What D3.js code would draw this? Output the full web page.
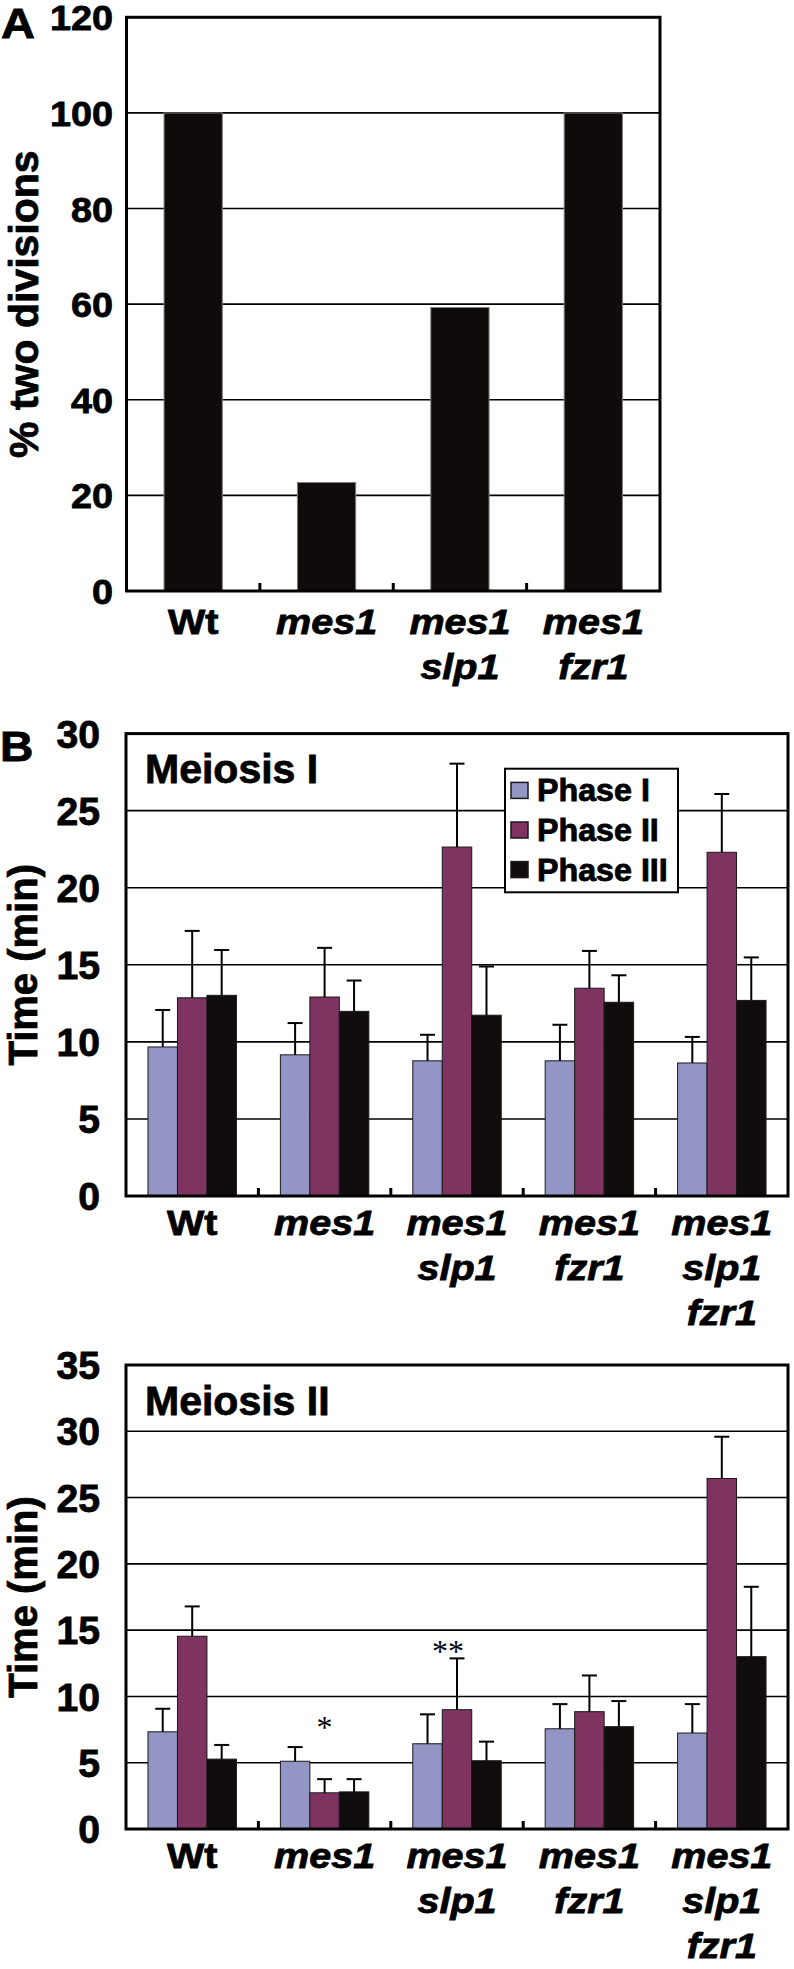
<!DOCTYPE html>
<html><head><meta charset="utf-8">
<script src="https://cdn.jsdelivr.net/npm/d3@7"></script>
<style>body{margin:0;background:#fff}svg{display:block}
svg text{stroke:#000;stroke-width:0.8px;paint-order:stroke}
svg text.sig{stroke:none}</style>
</head><body>
<script>
// ---------- DATA ----------
// Panel A
const categoriesA = ["Wt", "mes1", "mes1 slp1", "mes1 fzr1"];
const valuesA = [100, 22.7, 59.3, 100];
const ticksA = [0, 20, 40, 60, 80, 100, 120];

// Panel B
const categoriesB = ["Wt", "mes1", "mes1 slp1", "mes1 fzr1", "mes1 slp1 fzr1"];
const seriesNames = ["Phase I", "Phase II", "Phase III"];

const meiosisI_phaseI      = [9.67, 9.16, 8.77, 8.77, 8.63];
const meiosisI_phaseI_sd   = [2.40, 2.06, 1.69, 2.34, 1.69];
const meiosisI_phaseII     = [12.86, 12.91, 22.64, 13.48, 22.30];
const meiosisI_phaseII_sd  = [4.34, 3.19, 5.41, 2.42, 3.78];
const meiosisI_phaseIII    = [13.02, 11.98, 11.73, 12.57, 12.69];
const meiosisI_phaseIII_sd = [2.94, 2.00, 3.16, 1.75, 2.79];
const ticksMI = [0, 5, 10, 15, 20, 25, 30];

const meiosisII_phaseI      = [7.33, 5.11, 6.43, 7.56, 7.24];
const meiosisII_phaseI_sd   = [1.74, 1.07, 2.22, 1.86, 2.18];
const meiosisII_phaseII     = [14.54, 2.73, 9.00, 8.85, 26.44];
const meiosisII_phaseII_sd  = [2.25, 1.03, 3.87, 2.73, 3.15];
const meiosisII_phaseIII    = [5.27, 2.80, 5.15, 7.72, 13.00];
const meiosisII_phaseIII_sd = [1.07, 0.96, 1.44, 1.93, 5.27];
const ticksMII = [0, 5, 10, 15, 20, 25, 30, 35];

// significance marks (category, series, value level, text)
const sigCats   = ["mes1", "mes1 slp1"];
const sigSeries = ["Phase II", "Phase II"];
const sigLevels = [8.0, 13.7];
const sigTexts  = ["*", "**"];

// ---------- STYLE ----------
const colors = {"Phase I": "#9395c5", "Phase II": "#7e3361", "Phase III": "#110d0d"};
const FONT = "'Liberation Sans', Arial, Helvetica, sans-serif";

const svg = d3.select("body").append("svg")
  .attr("width", 794).attr("height", 1969)
  .style("font-family", FONT).style("font-weight", "bold");

function labelLines(c) { return c.split(" "); }

function drawPanel(cfg) {
  const g = svg.append("g");
  const y = d3.scaleLinear().domain([cfg.ticks[0], cfg.ticks[cfg.ticks.length - 1]])
    .range([cfg.bottom, cfg.top]);
  const x0 = d3.scaleBand().domain(cfg.categories).range([cfg.left, cfg.right])
    .paddingInner(cfg.pad).paddingOuter(cfg.pad / 2);
  const step = x0.step();

  // gridlines
  g.append("g").selectAll("line")
    .data(cfg.ticks.slice(1, -1)).join("line")
    .attr("x1", cfg.left).attr("x2", cfg.right)
    .attr("y1", d => y(d)).attr("y2", d => y(d))
    .attr("stroke", "#000").attr("stroke-width", 1.6);

  // y axis labels via d3 axis
  const ya = g.append("g").attr("transform", `translate(${cfg.left},0)`)
    .call(d3.axisLeft(y).tickValues(cfg.ticks).tickSize(0).tickPadding(0));
  ya.select(".domain").remove();
  ya.selectAll("text")
    .attr("x", -cfg.tickOffset / cfg.tickSx)
    .attr("dy", "0.36em")
    .attr("transform", `scale(${cfg.tickSx},1)`)
    .style("font-family", FONT).style("font-weight", "bold")
    .style("font-size", cfg.tickFs + "px").attr("fill", "#000");

  // bars
  const rows = cfg.categories.map((c, i) => ({cat: c, vals: cfg.series.map((s, j) => ({s, v: cfg.values[j][i], sd: cfg.sds ? cfg.sds[j][i] : null}))}));
  const x1 = d3.scaleBand().domain(cfg.series).range([0, x0.bandwidth()]);
  const groups = g.append("g").selectAll("g").data(rows).join("g")
    .attr("transform", d => `translate(${x0(d.cat)},0)`);
  groups.selectAll("rect").data(d => d.vals).join("rect")
    .attr("x", d => x1(d.s)).attr("width", x1.bandwidth())
    .attr("y", d => y(d.v)).attr("height", d => y(0) - y(d.v))
    .attr("fill", d => cfg.fill(d.s))
    .attr("stroke", cfg.barStroke).attr("stroke-width", 1);
  if (cfg.sds) {
    const eb = groups.selectAll("g.eb").data(d => d.vals).join("g").attr("class", "eb");
    eb.append("line")
      .attr("x1", d => x1(d.s) + x1.bandwidth() / 2).attr("x2", d => x1(d.s) + x1.bandwidth() / 2)
      .attr("y1", d => y(d.v)).attr("y2", d => y(d.v + d.sd))
      .attr("stroke", "#000").attr("stroke-width", 2);
    eb.append("line")
      .attr("x1", d => x1(d.s) + x1.bandwidth() / 2 - 7.5).attr("x2", d => x1(d.s) + x1.bandwidth() / 2 + 7.5)
      .attr("y1", d => y(d.v + d.sd)).attr("y2", d => y(d.v + d.sd))
      .attr("stroke", "#000").attr("stroke-width", 2);
  }

  // frame
  g.append("rect").attr("x", cfg.left).attr("y", cfg.top)
    .attr("width", cfg.right - cfg.left).attr("height", cfg.bottom - cfg.top)
    .attr("fill", "none").attr("stroke", "#000").attr("stroke-width", 3);

  // inward ticks between categories
  g.append("g").selectAll("line").data(cfg.categories.slice(1)).join("line")
    .attr("x1", d => x0(d) - (step - x0.bandwidth()) / 2)
    .attr("x2", d => x0(d) - (step - x0.bandwidth()) / 2)
    .attr("y1", cfg.bottom).attr("y2", cfg.bottom - 8)
    .attr("stroke", "#000").attr("stroke-width", 3);

  // x axis labels via d3 axis
  const xa = g.append("g").attr("transform", `translate(0,${cfg.bottom})`)
    .call(d3.axisBottom(x0).tickSize(0).tickFormat(""));
  xa.select(".domain").remove();
  xa.selectAll(".tick").each(function(c) {
    const t = d3.select(this);
    labelLines(c).forEach((ln, k) => {
      t.append("text")
        .attr("transform", `translate(0,${cfg.labBase + k * cfg.labStep}) scale(1.13,1)`)
        .attr("text-anchor", "middle")
        .style("font-family", FONT).style("font-weight", "bold")
        .style("font-style", ln === "Wt" ? "normal" : "italic")
        .style("font-size", "35px").attr("fill", "#000")
        .text(ln);
    });
  });

  // y title
  svg.append("text")
    .attr("transform", `translate(${cfg.titleX},${(cfg.top + cfg.bottom) / 2}) rotate(-90)`)
    .attr("text-anchor", "middle").style("font-size", cfg.titleFs + "px")
    .text(cfg.title);

  return {x0, x1, y};
}

// ---------- PANEL A ----------
drawPanel({
  left: 126.5, right: 660, top: 17.3, bottom: 591,
  ticks: ticksA, tickFs: 35, tickSx: 1.08, tickOffset: 13.5,
  categories: categoriesA, series: ["v"], values: [valuesA], sds: null,
  pad: 0.563, fill: () => "#0f0b0b", barStroke: "#808080",
  labBase: 43, labStep: 45,
  title: "% two divisions", titleX: 37.5, titleFs: 41
});
svg.append("text").attr("transform", "translate(1,38.3) scale(1.12,1)")
  .style("font-size", "42px").text("A");

// ---------- PANEL B: Meiosis I ----------
drawPanel({
  left: 126, right: 788, top: 733.6, bottom: 1196,
  ticks: ticksMI, tickFs: 38, tickSx: 1.03, tickOffset: 26,
  categories: categoriesB, series: seriesNames,
  values: [meiosisI_phaseI, meiosisI_phaseII, meiosisI_phaseIII],
  sds: [meiosisI_phaseI_sd, meiosisI_phaseII_sd, meiosisI_phaseIII_sd],
  pad: 0.332, fill: s => colors[s], barStroke: "#1a1a1a",
  labBase: 39, labStep: 45,
  title: "Time (min)", titleX: 36.5, titleFs: 40
});
svg.append("text").attr("transform", "translate(0,761) scale(1.1,1)")
  .style("font-size", "42px").text("B");
svg.append("text").attr("x", 145).attr("y", 782.6).style("font-size", "41px").text("Meiosis I");

// legend
const lg = svg.append("g");
lg.append("rect").attr("x", 505).attr("y", 768.7).attr("width", 173).attr("height", 123.6)
  .attr("fill", "#fff").attr("stroke", "#000").attr("stroke-width", 2);
const legY = d3.scalePoint().domain(seriesNames).range([790.4, 869.6]);
seriesNames.forEach(s => {
  lg.append("rect").attr("x", 511).attr("y", legY(s) - 8).attr("width", 17).attr("height", 16)
    .attr("fill", colors[s]).attr("stroke", "#1a1a1a").attr("stroke-width", 1.5);
  lg.append("text").attr("transform", `translate(537,${legY(s) + 11}) scale(1.04,1)`)
    .style("font-size", "31px").text(s);
});

// ---------- PANEL B: Meiosis II ----------
const p2 = drawPanel({
  left: 126, right: 788, top: 1365, bottom: 1829,
  ticks: ticksMII, tickFs: 38, tickSx: 1.03, tickOffset: 26,
  categories: categoriesB, series: seriesNames,
  values: [meiosisII_phaseI, meiosisII_phaseII, meiosisII_phaseIII],
  sds: [meiosisII_phaseI_sd, meiosisII_phaseII_sd, meiosisII_phaseIII_sd],
  pad: 0.332, fill: s => colors[s], barStroke: "#1a1a1a",
  labBase: 39, labStep: 45,
  title: "Time (min)", titleX: 36.5, titleFs: 40
});
svg.append("text").attr("x", 145).attr("y", 1415).style("font-size", "41px").text("Meiosis II");

sigCats.forEach((c, i) => {
  const cx = p2.x0(c) + p2.x1(sigSeries[i]) + p2.x1.bandwidth() / 2 - (sigTexts[i].length > 1 ? 9 : 0);
  svg.append("text").attr("class", "sig").attr("x", cx).attr("y", p2.y(sigLevels[i]) + 15)
    .attr("text-anchor", "middle")
    .style("font-family", "'Liberation Serif', 'Times New Roman', serif")
    .style("font-weight", "normal").style("font-size", "32px")
    .text(sigTexts[i]);
});
</script>
</body></html>
